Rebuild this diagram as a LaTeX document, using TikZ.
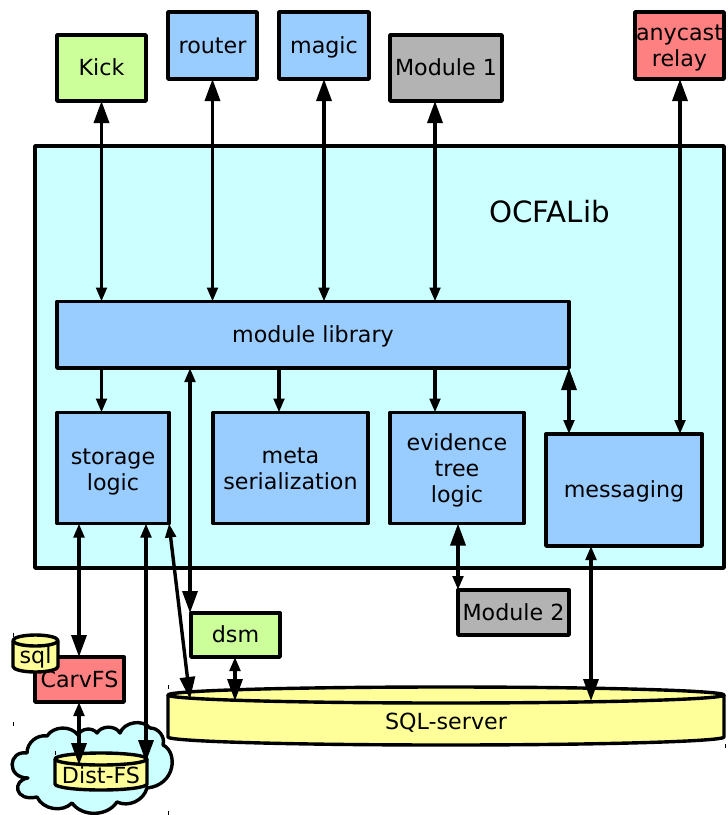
\documentclass[tikz,border=0pt]{standalone}
\usepackage{fontspec}
\setmainfont{DejaVu Sans}
\usetikzlibrary{arrows.meta}
\definecolor{cblue}{HTML}{99CCFF}
\definecolor{ccyan}{HTML}{CCFFFF}
\definecolor{cgreen}{HTML}{CCFF99}
\definecolor{cred}{HTML}{FF8080}
\definecolor{cgray}{HTML}{B3B3B3}
\definecolor{cyel}{HTML}{FFFF99}
\newcommand{\st}{\rule[-5.4pt]{0pt}{25.8pt}}
\newcommand{\sth}[1]{\rule[-5.4pt]{0pt}{\dimexpr25.8pt+2\dimexpr#1pt\relax\relax}}
\tikzset{
  lw/.style={line width=3.4pt,line join=round},
  txt/.style={inner sep=0pt,outer sep=0pt,align=center,font=\fontsize{22.2}{26}\selectfont},
  box/.style={draw,lw,rectangle,txt},
  blue box/.style={box,fill=cblue},
  green box/.style={box,fill=cgreen},
  red box/.style={box,fill=cred},
  gray box/.style={box,fill=cgray},
  drum/.style={draw,lw,fill=cyel},
  conn/.style={lw},
  both/.style={conn,{Triangle[length=22pt,width=15pt]}-{Triangle[length=14pt,width=10.5pt]}},
  bothr/.style={conn,{Triangle[length=14pt,width=10.5pt]}-{Triangle[length=22pt,width=15pt]}},
  down/.style={conn,-{Triangle[length=14pt,width=10.5pt]}},
  speck/.style={line width=1pt},
}
\newcommand{\bx}[7]{%
  \pgfmathsetmacro{\cxv}{(#3+#5)/2}\pgfmathsetmacro{\cyv}{(#4+#6)/2}%
  \pgfmathsetmacro{\wv}{#5-#3}\pgfmathsetmacro{\hv}{#6-#4}%
  \node[#1,minimum width=\wv pt,minimum height=\hv pt] (#2) at (\cxv,\cyv) {#7};}
% name, x1, ytop, x2, ybot, ry, label, label y
\newcommand{\drumshape}[8]{%
  \pgfmathsetmacro{\cxv}{(#2+#4)/2}\pgfmathsetmacro{\rxv}{(#4-#2)/2}%
  \pgfmathsetmacro{\wv}{#4-#2}%
  \pgfmathsetmacro{\ytv}{#3+#6}\pgfmathsetmacro{\ybv}{#5-#6}%
  \draw[drum] (#2,\ytv) -- (#2,\ybv) arc[start angle=180,end angle=0,x radius=\rxv,y radius=#6] -- (#4,\ytv);
  \draw[drum] (\cxv,\ytv) ellipse[x radius=\rxv,y radius=#6];
  \node[txt,minimum width=\wv pt] (#1) at (\cxv,#8) {\st #7};}
\begin{document}
\begin{tikzpicture}[x=1pt,y=-1pt]
\useasboundingbox (0,0) rectangle (728,815);
% column helpers
\foreach \cx in {79,146,190,235,279,435,458,569,591,680}{\coordinate (c\cx) at (\cx,0);}
\bx{box,fill=ccyan}{ocfa}{35}{146}{724}{568}{}
\node[font=\fontsize{29.3}{32}\selectfont,inner sep=0pt] (ocfalabel) at (549.5,212) {OCFALib};
\bx{green box}{kick}{57}{35}{146}{101}{\st Kick}
\bx{blue box}{router}{168}{12}{257}{79}{\st router}
\bx{blue box}{magic}{279}{12}{369}{79}{\st magic}
\bx{gray box}{modone}{390}{35}{502}{101}{\st Module 1}
\bx{red box}{anycast}{635}{12}{724}{79}{\sth{0.5}anycast\\\st relay}
\bx{blue box}{lib}{57}{301.5}{569}{368}{\st module library}
\bx{blue box}{storage}{57}{412.5}{169}{523.5}{\sth{1.5}storage\\\st logic}
\bx{blue box}{meta}{213}{412.5}{368}{523.5}{\sth{1.2}meta\\\st serialization}
\bx{blue box}{evidence}{390}{412.5}{524}{523.5}{\sth{1.2}evidence\\\st tree\\\st logic}
\bx{blue box}{messaging}{546}{434}{702}{546}{\st messaging}
\bx{gray box}{modtwo}{458}{590}{569}{635}{\st Module 2}
\bx{green box}{dsm}{191}{613}{280}{657}{\st dsm}
\bx{red box}{carv}{35}{657}{124}{702}{\st CarvFS}
% cloud
\draw[lw,fill=ccyan] (27,753) .. controls (8,750) and (6,778) .. (28,778)
  .. controls (12,780) and (14,802) .. (37,797)
  to[bend right=55] (72,803)
  to[bend right=55] (117,802)
  to[bend right=50] (147,788)
  .. controls (176,785) and (178,752) .. (163,745)
  to[bend right=55] (150,728)
  to[bend right=60] (120,733)
  to[bend right=60] (97,733)
  to[bend right=60] (78,735)
  to[bend right=55] (47,736)
  to[bend right=50] cycle;
\drumshape{distfs}{55}{753}{147}{790}{6}{Dist-FS}{776}
\drumshape{sql}{13}{635}{58}{672}{5.5}{sql}{656}
\drumshape{sqlsrv}{168}{687}{724}{745}{8}{SQL-server}{722}
% connectors
\draw[both] (kick.south) -- (kick |- lib.north);
\draw[both] (router.south) -- (router |- lib.north);
\draw[both] (magic.south) -- (magic |- lib.north);
\draw[both] (c435 |- modone.south) -- (c435 |- lib.north);
\draw[both] (c680 |- anycast.south) -- (c680 |- messaging.north);
\draw[down] (kick |- lib.south) -- (kick |- storage.north);
\draw[down] (c279 |- lib.south) -- (c279 |- meta.north);
\draw[down] (c435 |- lib.south) -- (c435 |- evidence.north);
\draw[both] (c569 |- lib.south) -- (c569 |- messaging.north);
\draw[bothr] (c190 |- lib.south) -- (c190 |- dsm.north);
\draw[bothr] (c79 |- storage.south) -- (c79 |- carv.north);
\coordinate (distin) at (146,762);
\draw[bothr] (c146 |- storage.south) -- (distin);
\coordinate (srvin) at (190,699);
\draw[bothr] (storage.south east) -- (srvin);
\coordinate (srvdsm) at (235,701);
\draw[bothr] (c235 |- dsm.south) -- (srvdsm);
\coordinate (distcarv) at (79,765);
\draw[bothr] (c79 |- carv.south) -- (distcarv);
\draw[both] (c458 |- evidence.south) -- (c458 |- modtwo.north);
\coordinate (srvmsg) at (591,701);
\draw[bothr] (c591 |- messaging.south) -- (srvmsg);
% stray marks
\foreach \sx/\sy in {13/635,13/724,168/687,168/813,55/753,725/746}{\draw[speck] (\sx,\sy-2) -- (\sx,\sy+2);}
\end{tikzpicture}
\end{document}
